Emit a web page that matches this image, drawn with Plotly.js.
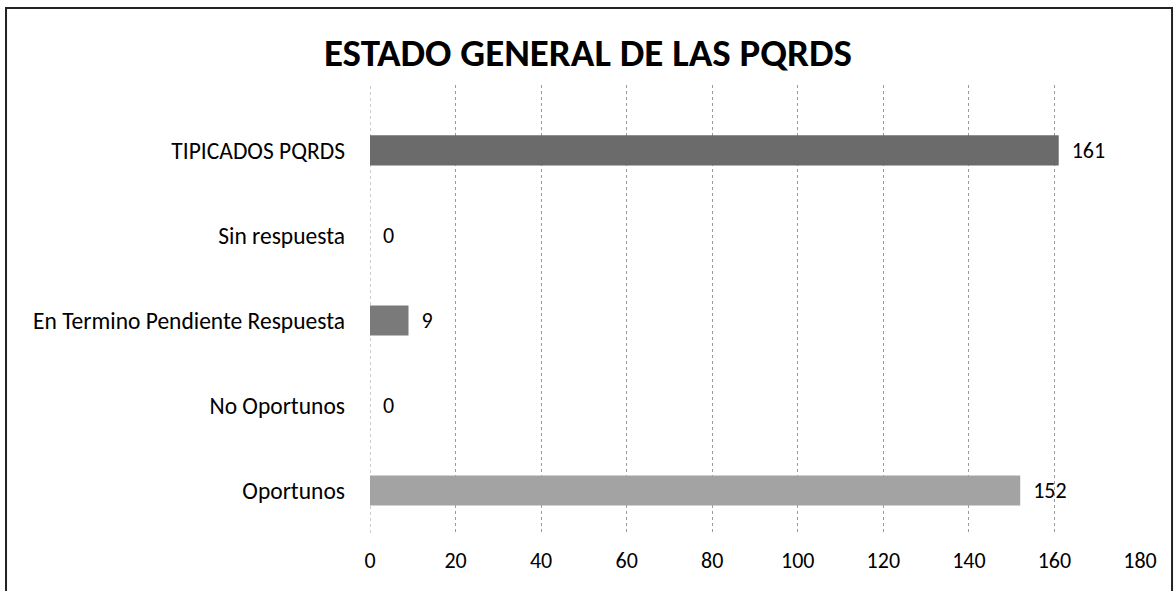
<!DOCTYPE html>
<html><head><meta charset="utf-8">
<script src="https://cdn.plot.ly/plotly-3.0.1.min.js"></script>
<style>html,body{margin:0;padding:0;background:#fff;}#chart{width:1176px;height:591px;}</style>
</head><body><div id="chart"></div>
<script>
var categories = ["Oportunos", "No Oportunos", "En Termino Pendiente Respuesta", "Sin respuesta", "TIPICADOS PQRDS"];
var values = [152, 0, 9, 0, 161];
var barColors = ["#a3a3a3", "#808080", "#7a7a7a", "#808080", "#6b6b6b"];
var xTicks = [0, 20, 40, 60, 80, 100, 120, 140, 160, 180];
var chartTitle = "ESTADO GENERAL DE LAS PQRDS";

var font = "Carlito, 'Open Sans', 'Liberation Sans', sans-serif";
var trace = {
  type: "bar", orientation: "h", y: categories, x: values,
  marker: {color: barColors, line: {width: 0}},
  text: values.map(function (v) { return "\u00a0\u00a0" + v; }), textposition: "outside", cliponaxis: false,
  textfont: {family: font, size: 22, color: "#000"}
};
var layout = {
  width: 1176, height: 591,
  margin: {l: 370, r: 36, t: 85, b: 58},
  paper_bgcolor: "#fff", plot_bgcolor: "#fff",
  showlegend: false, bargap: 0.645,
  title: {text: "<b>" + chartTitle + "</b>", x: 0.5, xanchor: "center", y: 0.912, yanchor: "middle",
          font: {family: font, size: 39, color: "#000"}},
  xaxis: {range: [0, 180], tickvals: xTicks, ticktext: xTicks.map(String),
          showgrid: true, gridcolor: "#9a9a9a", griddash: "dot", gridwidth: 1,
          zeroline: false, showline: false, ticks: "", ticklabelstandoff: 12,
          tickfont: {family: font, size: 22, color: "#000"}, fixedrange: true},
  yaxis: {categoryorder: "array", categoryarray: categories, range: [-0.5, 4.77],
          showgrid: false, zeroline: false,
          showline: false, ticks: "", ticklabelstandoff: 24,
          tickfont: {family: font, size: 23.5, color: "#000"}, fixedrange: true},
  shapes: [
    {type: "line", xref: "x", yref: "paper", x0: 0, x1: 0, y0: 0, y1: 1, line: {color: "#9a9a9a", width: 1, dash: "dot"}, layer: "below"},
    {type: "rect", xref: "paper", yref: "paper", x0: -0.4727, x1: 1.0416, y0: -0.3, y1: 1.172,
     line: {color: "#222", width: 2}, fillcolor: "rgba(0,0,0,0)"}
  ],
  font: {family: font}
};
Plotly.newPlot("chart", [trace], layout, {displayModeBar: false, staticPlot: true});
</script></body></html>
